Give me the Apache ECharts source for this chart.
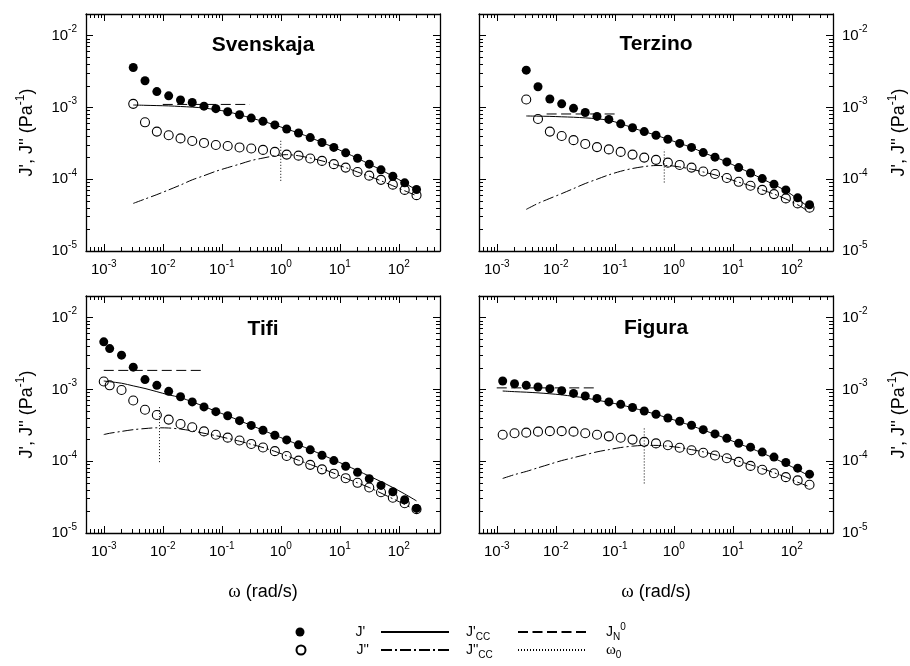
<!DOCTYPE html>
<html>
<head>
<meta charset="utf-8">
<title>J', J'' vs frequency</title>
<script src="https://cdn.jsdelivr.net/npm/echarts@6/dist/echarts.min.js"></script>
<style>html,body{margin:0;background:#fff}#main{width:910px;height:666px}</style>
</head>
<body>
<div id="main"></div>
<script>
// angular frequency (rad/s)
var wA = [0.00316,0.005,0.00794,0.0126,0.02,0.0316,0.05,0.0794,0.126,0.2,0.316,0.5,0.794,1.26,2,3.16,5,7.94,12.6,20,31.6,50,79.4,126,200];
var wTifi = [0.001,0.00126,0.002,0.00316,0.005,0.00794,0.0126,0.02,0.0316,0.05,0.0794,0.126,0.2,0.316,0.5,0.794,1.26,2,3.16,5,7.94,12.6,20,31.6,50,79.4,126,200];
var wFig = [0.00126,0.002,0.00316,0.005,0.00794,0.0126,0.02,0.0316,0.05,0.0794,0.126,0.2,0.316,0.5,0.794,1.26,2,3.16,5,7.94,12.6,20,31.6,50,79.4,126,200];

// Svenskaja
var svJ1 = [3.6e-3,2.35e-3,1.66e-3,1.45e-3,1.27e-3,1.17e-3,1.04e-3,9.6e-4,8.7e-4,7.9e-4,7.1e-4,6.4e-4,5.7e-4,5.0e-4,4.4e-4,3.8e-4,3.25e-4,2.77e-4,2.33e-4,1.96e-4,1.62e-4,1.35e-4,1.1e-4,8.9e-5,7.2e-5];
var svJ2 = [1.12e-3,6.2e-4,4.6e-4,4.1e-4,3.7e-4,3.4e-4,3.2e-4,3.0e-4,2.9e-4,2.77e-4,2.68e-4,2.56e-4,2.4e-4,2.2e-4,2.13e-4,1.94e-4,1.8e-4,1.62e-4,1.45e-4,1.26e-4,1.12e-4,9.8e-5,8.4e-5,7.1e-5,6.0e-5];
var svJ1cc = [1.08e-3,1.07e-3,1.06e-3,1.05e-3,1.03e-3,1.01e-3,9.8e-4,9.3e-4,8.7e-4,7.9e-4,7.1e-4,6.4e-4,5.7e-4,5.0e-4,4.4e-4,3.8e-4,3.25e-4,2.77e-4,2.33e-4,1.96e-4,1.62e-4,1.35e-4,1.1e-4,8.9e-5,7.0e-5];
var svJ2cc = [4.6e-5,5.3e-5,6.1e-5,7.1e-5,8.3e-5,9.8e-5,1.12e-4,1.29e-4,1.45e-4,1.62e-4,1.82e-4,1.97e-4,2.12e-4,2.2e-4,2.12e-4,1.97e-4,1.8e-4,1.62e-4,1.45e-4,1.26e-4,1.1e-4,9.5e-5,8.1e-5,6.9e-5,5.9e-5];
var svJN0 = [[0.01, 1.1e-3], [0.3, 1.1e-3]];
var svW0 = [[1.0, 9.5e-5], [1.0, 3.5e-4]];

// Terzino
var teJ1 = [3.3e-3,1.94e-3,1.31e-3,1.12e-3,9.7e-4,8.5e-4,7.5e-4,6.8e-4,5.9e-4,5.2e-4,4.6e-4,4.1e-4,3.6e-4,3.15e-4,2.77e-4,2.35e-4,2.03e-4,1.74e-4,1.45e-4,1.22e-4,1.02e-4,8.5e-5,7.1e-5,5.5e-5,4.4e-5];
var teJ2 = [1.29e-3,6.9e-4,4.6e-4,4.0e-4,3.5e-4,3.1e-4,2.8e-4,2.6e-4,2.4e-4,2.2e-4,2.0e-4,1.86e-4,1.7e-4,1.58e-4,1.45e-4,1.28e-4,1.18e-4,1.04e-4,9.2e-5,8.1e-5,7.1e-5,6.2e-5,5.4e-5,4.6e-5,4.0e-5];
var teJ1cc = [7.6e-4,7.55e-4,7.5e-4,7.4e-4,7.3e-4,7.15e-4,6.95e-4,6.6e-4,5.95e-4,5.2e-4,4.6e-4,4.1e-4,3.6e-4,3.15e-4,2.77e-4,2.35e-4,2.03e-4,1.74e-4,1.45e-4,1.22e-4,1.01e-4,8.4e-5,6.9e-5,5.3e-5,4.0e-5];
var teJ2cc = [3.8e-5,4.6e-5,5.4e-5,6.3e-5,7.4e-5,8.7e-5,1.0e-4,1.15e-4,1.29e-4,1.41e-4,1.5e-4,1.55e-4,1.55e-4,1.48e-4,1.38e-4,1.26e-4,1.15e-4,1.03e-4,9.1e-5,8.1e-5,7.1e-5,6.2e-5,5.3e-5,4.4e-5,3.5e-5];
var teJN0 = [[0.007, 8.1e-4], [0.1, 8.1e-4]];
var teW0 = [[0.69, 9.0e-5], [0.69, 2.6e-4]];

// Tifi
var tiJ1 = [4.6e-3,3.7e-3,3.0e-3,2.04e-3,1.37e-3,1.14e-3,9.4e-4,7.9e-4,6.7e-4,5.7e-4,4.9e-4,4.3e-4,3.67e-4,3.15e-4,2.7e-4,2.3e-4,1.98e-4,1.69e-4,1.44e-4,1.21e-4,1.02e-4,8.5e-5,7.0e-5,5.7e-5,4.6e-5,3.75e-5,2.9e-5,2.2e-5];
var tiJ2 = [1.29e-3,1.14e-3,9.8e-4,7.0e-4,5.2e-4,4.4e-4,3.8e-4,3.3e-4,2.97e-4,2.6e-4,2.34e-4,2.13e-4,1.94e-4,1.74e-4,1.55e-4,1.38e-4,1.18e-4,1.02e-4,8.9e-5,7.7e-5,6.7e-5,5.8e-5,5.0e-5,4.3e-5,3.7e-5,3.1e-5,2.6e-5,2.15e-5];
var tiJ1cc = [1.31e-3,1.28e-3,1.22e-3,1.12e-3,1.03e-3,9.3e-4,8.4e-4,7.7e-4,6.7e-4,5.8e-4,4.95e-4,4.3e-4,3.67e-4,3.15e-4,2.7e-4,2.3e-4,1.98e-4,1.69e-4,1.45e-4,1.23e-4,1.04e-4,8.8e-5,7.4e-5,6.2e-5,5.2e-5,4.3e-5,3.5e-5,2.8e-5];
var tiJ2cc = [2.35e-4,2.45e-4,2.6e-4,2.75e-4,2.85e-4,2.92e-4,2.9e-4,2.8e-4,2.65e-4,2.45e-4,2.27e-4,2.08e-4,1.9e-4,1.72e-4,1.55e-4,1.37e-4,1.19e-4,1.03e-4,9.0e-5,7.85e-5,6.8e-5,5.8e-5,5.0e-5,4.3e-5,3.6e-5,3.0e-5,2.5e-5,2.05e-5];
var tiJN0 = [[0.001, 1.84e-3], [0.052, 1.84e-3]];
var tiW0 = [[0.0088, 9.7e-5], [0.0088, 5.7e-4]];

// Figura
var fgJ1 = [1.31e-3,1.2e-3,1.14e-3,1.08e-3,1.02e-3,9.6e-4,8.8e-4,8.1e-4,7.5e-4,6.7e-4,6.2e-4,5.6e-4,5.0e-4,4.5e-4,4.0e-4,3.6e-4,3.17e-4,2.75e-4,2.4e-4,2.08e-4,1.78e-4,1.57e-4,1.34e-4,1.14e-4,9.6e-5,8.0e-5,6.6e-5];
var fgJ2 = [2.34e-4,2.45e-4,2.5e-4,2.58e-4,2.62e-4,2.62e-4,2.58e-4,2.45e-4,2.34e-4,2.22e-4,2.12e-4,2.0e-4,1.86e-4,1.77e-4,1.67e-4,1.54e-4,1.42e-4,1.31e-4,1.2e-4,1.1e-4,9.8e-5,8.6e-5,7.6e-5,6.8e-5,6.0e-5,5.4e-5,4.7e-5];
var fgJ1cc = [9.5e-4,9.3e-4,9.15e-4,8.95e-4,8.7e-4,8.4e-4,8.0e-4,7.6e-4,7.1e-4,6.6e-4,6.1e-4,5.55e-4,5.0e-4,4.5e-4,4.0e-4,3.55e-4,3.12e-4,2.72e-4,2.37e-4,2.05e-4,1.76e-4,1.52e-4,1.3e-4,1.1e-4,9.2e-5,7.6e-5,6.2e-5];
var fgJ2cc = [5.75e-5,6.5e-5,7.2e-5,8.1e-5,9.1e-5,1.02e-4,1.12e-4,1.23e-4,1.35e-4,1.45e-4,1.55e-4,1.62e-4,1.66e-4,1.66e-4,1.62e-4,1.55e-4,1.45e-4,1.35e-4,1.23e-4,1.12e-4,1.0e-4,8.9e-5,7.9e-5,6.9e-5,6.0e-5,5.1e-5,4.4e-5];
var fgJN0 = [[0.001, 1.05e-3], [0.05, 1.05e-3]];
var fgW0 = [[0.316, 4.9e-5], [0.316, 2.95e-4]];

// axes
var X_MIN = 5e-4, X_MAX = 500;
var Y_MIN = 1e-5, Y_MAX = 2e-2;
var X_MAJOR = [0.001, 0.01, 0.1, 1, 10, 100];
var Y_MAJOR = [1e-5, 1e-4, 1e-3, 1e-2];

function minorTicks(lo, hi) {
  var out = [];
  for (var e = -6; e <= 3; e++) {
    for (var m = 2; m <= 9; m++) {
      var v = parseFloat((m * Math.pow(10, e)).toPrecision(3));
      if (v > lo && v < hi) out.push(v);
    }
  }
  return out;
}
var X_MINOR = minorTicks(X_MIN, X_MAX);
var Y_MINOR = minorTicks(Y_MIN, Y_MAX);

var FONT = 'Liberation Sans';
var SERIF = 'Liberation Serif';

var panels = [
  {title: 'Svenskaja', left: 86, top: 14, side: 'left', xName: false, titleTop: 33,
   w: wA, j1: svJ1, j2: svJ2, j1cc: svJ1cc, j2cc: svJ2cc, jn: svJN0, w0: svW0},
  {title: 'Terzino', left: 479, top: 14, side: 'right', xName: false, titleTop: 32,
   w: wA, j1: teJ1, j2: teJ2, j1cc: teJ1cc, j2cc: teJ2cc, jn: teJN0, w0: teW0},
  {title: 'Tifi', left: 86, top: 296, side: 'left', xName: true, titleTop: 317,
   w: wTifi, j1: tiJ1, j2: tiJ2, j1cc: tiJ1cc, j2cc: tiJ2cc, jn: tiJN0, w0: tiW0},
  {title: 'Figura', left: 479, top: 296, side: 'right', xName: true, titleTop: 316,
   w: wFig, j1: fgJ1, j2: fgJ2, j1cc: fgJ1cc, j2cc: fgJ2cc, jn: fgJN0, w0: fgW0}
];
var GW = 354, GH = 237;

function pairs(xs, ys) {
  return xs.map(function (x, i) { return [x, ys[i]]; });
}

function powLabel(v) {
  return '10{sup|' + Math.round(Math.log10(v)) + '}';
}

var tickLabelStyle = {
  color: '#000', fontFamily: FONT, fontSize: 15, lineHeight: 22,
  rich: {sup: {fontFamily: FONT, fontSize: 10, lineHeight: 10, verticalAlign: 'top', color: '#000'}}
};

function axisCommon(minor, showLine, labelOpt) {
  return {
    type: 'log', logBase: 10,
    axisLine: {show: showLine, onZero: false, lineStyle: {color: '#000', width: 1.3}},
    axisTick: {show: true, inside: true, length: minor ? 4 : 7,
      lineStyle: {color: '#000', width: 1}},
    axisLabel: labelOpt || {show: false},
    splitLine: {show: false},
    minorTick: {show: false},
    silent: true
  };
}

var grids = [], xAxes = [], yAxes = [], series = [], titles = [];

panels.forEach(function (p, k) {
  var rect = {left: p.left, top: p.top, width: GW, height: GH, outerBoundsMode: 'none'};
  grids.push(Object.assign({}, rect), Object.assign({}, rect));
  var gMain = 2 * k, gMinor = 2 * k + 1;

  // x axes
  [['bottom', gMain, false], ['top', gMain, false], ['bottom', gMinor, true], ['top', gMinor, true]]
    .forEach(function (d) {
      var lab = (d[0] === 'bottom' && !d[2]) ? Object.assign({
        show: true, margin: 8, customValues: X_MAJOR, formatter: powLabel
      }, tickLabelStyle) : null;
      var ax = axisCommon(d[2], !d[2], lab);
      ax.gridIndex = d[1]; ax.position = d[0];
      ax.min = X_MIN; ax.max = X_MAX;
      ax.axisTick.customValues = d[2] ? X_MINOR : X_MAJOR;
      if (lab && p.xName) {
        ax.name = '{om|ω} (rad/s)';
        ax.nameLocation = 'middle';
        ax.nameGap = 48;
        ax.nameTextStyle = {color: '#000', fontFamily: FONT, fontSize: 18, lineHeight: 22,
          rich: {om: {fontFamily: SERIF, fontSize: 19, color: '#000'}}};
      }
      xAxes.push(ax);
    });

  // y axes
  [['left', gMain, false], ['right', gMain, false], ['left', gMinor, true], ['right', gMinor, true]]
    .forEach(function (d) {
      var lab = (d[0] === p.side && !d[2]) ? Object.assign({
        show: true, margin: 9, customValues: Y_MAJOR, formatter: powLabel
      }, tickLabelStyle) : null;
      var ax = axisCommon(d[2], !d[2], lab);
      ax.gridIndex = d[1]; ax.position = d[0];
      ax.min = Y_MIN; ax.max = Y_MAX;
      ax.axisTick.customValues = d[2] ? Y_MINOR : Y_MAJOR;
      if (lab) {
        ax.name = "J', J'' (Pa{sup|-1})";
        ax.nameLocation = 'middle';
        ax.nameRotate = 90;
        ax.nameGap = p.side === 'left' ? 47 : 54;
        ax.nameTextStyle = {color: '#000', fontFamily: FONT, fontSize: 18, lineHeight: 24,
          rich: {sup: {fontFamily: FONT, fontSize: 12, lineHeight: 12, verticalAlign: 'top', color: '#000'}}};
      }
      yAxes.push(ax);
    });

  var xi = 4 * k, yi = 4 * k;
  function line(name, data, dash, smooth) {
    return {name: name, type: 'line', xAxisIndex: xi, yAxisIndex: yi, data: data,
      symbol: 'none', showSymbol: false, smooth: smooth ? 0.3 : false, z: 2, silent: true,
      lineStyle: {color: '#000', width: 1, type: dash, opacity: 1}, itemStyle: {color: '#000'}};
  }
  series.push(
    line("J'CC", pairs(p.w, p.j1cc), 'solid', true),
    line("J''CC", pairs(p.w, p.j2cc), [11, 3, 2, 3], true),
    line('JN0', p.jn, [10, 4.5], false),
    line('w0', p.w0, [1, 2], false),
    {name: "J'", type: 'scatter', xAxisIndex: xi, yAxisIndex: yi, data: pairs(p.w, p.j1),
      symbol: 'circle', symbolSize: 9, z: 3, silent: true,
      itemStyle: {color: '#000', opacity: 1}},
    {name: "J''", type: 'scatter', xAxisIndex: xi, yAxisIndex: yi, data: pairs(p.w, p.j2),
      symbol: 'circle', symbolSize: 9, z: 3, silent: true,
      itemStyle: {color: 'rgba(255,255,255,0)', borderColor: '#000', borderWidth: 1.1, opacity: 1}}
  );

  titles.push({text: p.title, left: p.left + GW / 2, top: p.titleTop, textAlign: 'center',
    textVerticalAlign: 'top', padding: 0,
    textStyle: {fontFamily: FONT, fontSize: 21, fontWeight: 'bold', color: '#000', lineHeight: 24}});
});

// legend: [series name, left, top, icon width, text offset, is line]
var legendItems = [
  ["J'", 295.5, 622, 9, 46, false], ["J'CC", 380, 622, 68, 12, true], ['JN0', 517, 622, 68, 15, true],
  ["J''", 295.5, 640, 9, 46, false], ["J''CC", 380, 640, 68, 12, true], ['w0', 517, 640, 68, 15, true]
];
var legendText = {
  "J'": "J'", "J''": "J''", "J'CC": "J'{sub|CC}", "J''CC": "J''{sub|CC}",
  'JN0': 'J{sub|N}{sup|0}', 'w0': '{om|ω}{sub|0}'
};
var legends = legendItems.map(function (it) {
  return {
    data: [{name: it[0]}], left: it[1], top: it[2], padding: 0,
    itemWidth: it[3], itemHeight: 9, selectedMode: false,
    // line entries: keep the line, hide the marker ECharts adds to it
    itemStyle: it[5] ? {opacity: 0, borderWidth: 0, color: 'rgba(0,0,0,0)'} : {opacity: 1},
    lineStyle: {opacity: 1},
    formatter: function (n) { return legendText[n]; },
    textStyle: {color: '#000', fontFamily: FONT, fontSize: 14, lineHeight: 20, padding: [0, 0, 0, it[4]],
      rich: {
        sub: {fontFamily: FONT, fontSize: 10, lineHeight: 10, verticalAlign: 'bottom', color: '#000'},
        sup: {fontFamily: FONT, fontSize: 10, lineHeight: 10, verticalAlign: 'top', color: '#000'},
        om: {fontFamily: SERIF, fontSize: 15, color: '#000'}
      }}
  };
});

var chart = echarts.init(document.getElementById('main'), null, {renderer: 'canvas'});
chart.setOption({
  animation: false,
  backgroundColor: '#fff',
  textStyle: {fontFamily: FONT, color: '#000'},
  title: titles,
  legend: legends,
  grid: grids,
  xAxis: xAxes,
  yAxis: yAxes,
  series: series
});
</script>
</body>
</html>
